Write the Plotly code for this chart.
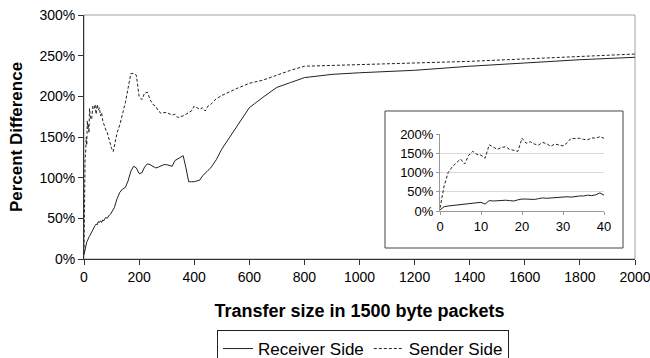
import plotly.graph_objects as go

# ---------------- main chart data ----------------
recv_x = [0, 2, 4, 6, 8, 10, 12, 14, 16, 18, 20, 24, 28, 32, 36, 40, 44, 48, 52, 56, 60, 64, 68, 72, 76, 80,
          84, 88, 92, 96, 100, 110, 120, 130, 140, 150, 160, 170, 180, 190, 200, 210, 220, 230, 240, 250,
          260, 270, 280, 290, 300, 310, 320, 330, 340, 350, 360, 370, 380, 390, 400, 410, 420, 430, 440,
          450, 460, 480, 500, 550, 600, 650, 700, 750, 800, 900, 1000, 1200, 1400, 1600, 1800, 2000]
recv_y = [5, 9, 13, 15, 18, 21, 22, 25, 24, 27, 28, 31, 33, 36, 38, 41, 43, 42, 46, 45, 47, 45, 48, 47, 50, 51,
          50, 53, 54, 55, 57, 63, 74, 82, 86, 88, 96, 108, 114, 112, 105, 106, 113, 117, 116, 114,
          112, 113, 115, 116, 116, 115, 114, 121, 123, 124, 127, 112, 95, 95, 95, 96, 97, 102, 106,
          109, 112, 122, 135, 160, 186, 199, 211, 217, 223, 227, 229, 232, 237, 241, 245, 248]

send_x = [0, 1, 2, 4, 6, 8, 10, 12, 14, 16, 18, 20, 24, 28, 32, 36, 40, 44, 48, 52, 56, 60, 64, 68, 72, 76,
          80, 84, 88, 92, 96, 100, 106, 110, 120, 130, 140, 150, 160, 170, 180, 190, 200, 210, 220, 230,
          240, 250, 260, 270, 280, 290, 300, 310, 320, 330, 340, 350, 360, 370, 380, 390, 400, 410, 420,
          430, 440, 450, 460, 480, 500, 550, 600, 650, 700, 750, 800, 900, 1000, 1200, 1400, 1600, 1800, 2000]
send_y = [8, 60, 100, 125, 130, 150, 140, 170, 160, 165, 155, 185, 172, 172, 188, 185, 190, 178, 190, 183,
          186, 176, 180, 170, 165, 163, 158, 156, 150, 147, 140, 136, 132, 140, 155, 165, 178, 192, 210,
          228, 228, 226, 200, 196, 204, 205, 196, 190, 188, 182, 179, 180, 180, 178, 177, 178, 174, 175,
          176, 178, 180, 182, 188, 186, 184, 186, 182, 188, 190, 197, 201, 209, 216, 220, 226, 232, 237,
          238, 239, 241, 243, 246, 249, 252]

# ---------------- inset data (first 40 packets) ----------------
inset_x = list(range(0, 41))
inset_recv = [3, 11, 13, 14, 15.6, 16, 18, 18, 19, 21, 22.6, 18, 27, 26, 27, 28, 28, 27, 26, 29, 31,
              31, 30, 30, 32, 34, 33, 34, 34, 35, 36, 37, 36, 38, 39, 39, 41, 40, 42, 47, 41]
inset_send = [8, 65, 100, 115, 125, 135, 122, 145, 155, 147, 145, 137, 172, 165, 160, 165, 167, 160, 157,
              155, 189, 176, 180, 174, 171, 178, 175, 168, 174, 171, 169, 177, 189, 188, 189, 186, 185,
              190, 189, 193, 189]

main_xticks = [0, 200, 400, 600, 800, 1000, 1200, 1400, 1600, 1800, 2000]
main_yticks = [0, 50, 100, 150, 200, 250, 300]
inset_xticks = [0, 10, 20, 30, 40]
inset_yticks = [0, 50, 100, 150, 200]

FONT = "Liberation Sans, Arial, sans-serif"
W, H = 650, 358
L, R, T, B = 84, 15, 15, 99
pw, ph = W - L - R, H - T - B


def px2paper_x(px):
    return (px - L) / pw


def px2paper_y(py):
    return (H - B - py) / ph


def pct(vals):
    return [f"{v}%" for v in vals]


fig = go.Figure()

fig.add_trace(go.Scatter(x=recv_x, y=recv_y, mode="lines", name="Receiver Side",
                         line=dict(color="#222222", width=1)))
fig.add_trace(go.Scatter(x=send_x, y=send_y, mode="lines", name="Sender Side",
                         line=dict(color="#222222", width=1, dash="3px,2px")))

fig.add_trace(go.Scatter(x=inset_x, y=inset_recv, mode="lines", showlegend=False,
                         xaxis="x2", yaxis="y2", line=dict(color="#222222", width=1)))
fig.add_trace(go.Scatter(x=inset_x, y=inset_send, mode="lines", showlegend=False,
                         xaxis="x2", yaxis="y2", line=dict(color="#222222", width=1, dash="3px,2px")))

ix0, ix1 = px2paper_x(440), px2paper_x(604)
iy0, iy1 = px2paper_y(211), px2paper_y(134)

fig.update_layout(
    width=W, height=H,
    margin=dict(l=L, r=R, t=T, b=B, pad=0, autoexpand=False),
    paper_bgcolor="white", plot_bgcolor="white",
    font=dict(family=FONT, color="black", size=14),
    xaxis=dict(range=[0, 2000], tickvals=main_xticks, showgrid=False, zeroline=False, automargin=False,
               showline=True, linecolor="#333333", linewidth=1, ticks="outside", ticklen=5,
               tickcolor="#333333", tickfont=dict(size=14), ticklabeloverflow="allow",
               title=dict(text="<b>Transfer size in 1500 byte packets</b>", font=dict(size=18), standoff=20)),
    yaxis=dict(range=[0, 300], tickvals=main_yticks, ticktext=pct(main_yticks), showgrid=False,
               zeroline=False, automargin=False, ticklabeloverflow="allow",
               showline=True, linecolor="#333333", linewidth=1, ticks="outside", ticklen=5,
               tickcolor="#333333", tickfont=dict(size=14),
               title=dict(text="<b>Percent Difference</b>", font=dict(size=17), standoff=12)),
    xaxis2=dict(domain=[ix0, ix1], anchor="y2", range=[0, 40], tickvals=inset_xticks, automargin=False,
                showgrid=False, zeroline=False, showline=True, linecolor="#999999", linewidth=1,
                ticks="outside", ticklen=3, tickcolor="#999999", tickfont=dict(size=13)),
    yaxis2=dict(domain=[iy0, iy1], anchor="x2", range=[0, 200], tickvals=inset_yticks,
                ticktext=pct(inset_yticks), automargin=False,
                showgrid=True, gridcolor="#d9d9d9", gridwidth=1, zeroline=False, showline=True,
                linecolor="#999999", linewidth=1, ticks="outside", ticklen=3, tickcolor="#999999",
                tickfont=dict(size=13)),
    legend=dict(orientation="h", x=px2paper_x(217), y=px2paper_y(330), xanchor="left", yanchor="top",
                bordercolor="#222222", borderwidth=1, font=dict(size=17), itemwidth=30,
                tracegroupgap=0, bgcolor="white"),
    shapes=[
        dict(type="rect", xref="paper", yref="paper", x0=0, x1=1, y0=0, y1=1,
             line=dict(color="#a0a0a0", width=1), layer="below"),
        dict(type="rect", xref="paper", yref="paper",
             x0=px2paper_x(385), x1=px2paper_x(623), y0=px2paper_y(248), y1=px2paper_y(111),
             line=dict(color="#444444", width=1), fillcolor="white", layer="below"),
    ],
)

fig.write_html("out.html", config={"displayModeBar": False},
               post_script="document.body.style.margin='0';")
